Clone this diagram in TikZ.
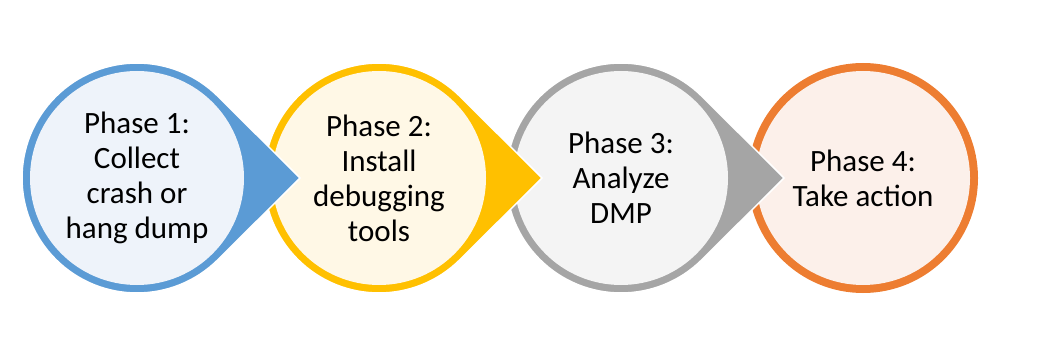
\documentclass[tikz,border=0pt]{standalone}
\usepackage{fontspec}
\setmainfont{Carlito}
\usepackage{xcolor}
\usepackage{tikz}
\usetikzlibrary{calc}

\definecolor{blueRing}{HTML}{5B9BD5}
\definecolor{blueFill}{HTML}{EEF3FA}
\definecolor{yellowRing}{HTML}{FFC000}
\definecolor{yellowFill}{HTML}{FFF8E6}
\definecolor{grayRing}{HTML}{A5A5A5}
\definecolor{grayFill}{HTML}{F4F4F4}
\definecolor{orangeRing}{HTML}{ED7D31}
\definecolor{orangeFill}{HTML}{FCF0EA}

\begin{document}
\begin{tikzpicture}[x=1pt, y=1pt,
    drop/.style={draw=white, line width=1.5pt},
    phasetext/.style={align=center, font=\fontsize{31}{35}\selectfont, text=black}]

    \useasboundingbox (0,0) rectangle (1040,348);

    % Circle centres, 242 apart
    \coordinate (c1) at (137,170);
    \coordinate (c2) at (379,170);
    \coordinate (c3) at (621,170);
    \coordinate (c4) at (863,170);

    % --- PHASE 4 (last, no tip) ---
    \fill[orangeRing] (c4) circle (115pt);
    \fill[orangeFill] (c4) circle (107pt);

    % --- PHASE 3 ---
    \fill[grayRing, drop] ($(c3)+(163,0)$) -- ($(c3)+(45:115pt)$)
        arc[start angle=45, end angle=315, radius=115pt] -- cycle;
    \fill[grayFill] (c3) circle (107pt);

    % --- PHASE 2 ---
    \fill[yellowRing, drop] ($(c2)+(163,0)$) -- ($(c2)+(45:115pt)$)
        arc[start angle=45, end angle=315, radius=115pt] -- cycle;
    \fill[yellowFill] (c2) circle (107pt);

    % --- PHASE 1 ---
    \fill[blueRing, drop] ($(c1)+(163,0)$) -- ($(c1)+(45:115pt)$)
        arc[start angle=45, end angle=315, radius=115pt] -- cycle;
    \fill[blueFill] (c1) circle (107pt);

    % Phase labels
    \node[phasetext] (p1) at (c1) {Phase 1:\\Collect\\crash or\\hang dump};
    \node[phasetext] (p2) at (c2) {Phase 2:\\Install\\debugging\\tools};
    \node[phasetext] (p3) at (c3) {Phase 3:\\Analyze\\DMP};
    \node[phasetext] (p4) at (c4) {Phase 4:\\Take action};

\end{tikzpicture}
\end{document}
